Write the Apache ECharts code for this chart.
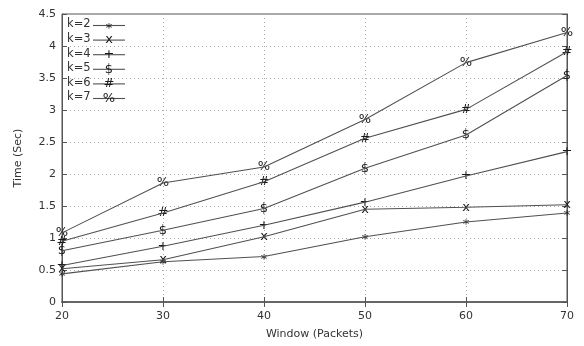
<!DOCTYPE html>
<html><head><meta charset="utf-8">
<script src="https://cdn.jsdelivr.net/npm/echarts@6/dist/echarts.min.js"></script>
<style>html,body{margin:0;padding:0;background:#fff}#c{width:584px;height:346px}</style>
</head><body><div id="c"></div>
<script>
const windows = [20, 30, 40, 50, 60, 70];
const seriesNames = ['k=2', 'k=3', 'k=4', 'k=5', 'k=6', 'k=7'];
const glyphs = ['*', 'x', '+', '$', '#', '%'];
const k2 = [0.44, 0.63, 0.71, 1.02, 1.25, 1.39];
const k3 = [0.52, 0.66, 1.02, 1.45, 1.48, 1.52];
const k4 = [0.57, 0.87, 1.20, 1.56, 1.97, 2.35];
const k5 = [0.80, 1.12, 1.46, 2.09, 2.61, 3.54];
const k6 = [0.95, 1.39, 1.88, 2.56, 3.01, 3.91];
const k7 = [1.08, 1.86, 2.11, 2.85, 3.74, 4.21];
const allValues = [k2, k3, k4, k5, k6, k7];
const yTicks = [0, 0.5, 1, 1.5, 2, 2.5, 3, 3.5, 4, 4.5];

const FONT = 'DejaVu Sans';
const lineColor = '#505050';
const glyphColor = '#1a1a1a';
const chart = echarts.init(document.getElementById('c'));

const series = [];
allValues.forEach((vals, i) => {
  const data = vals.map((v, j) => [windows[j], v]);
  series.push({
    name: seriesNames[i], type: 'line', data: data,
    symbol: 'none', lineStyle: { color: lineColor, width: 1.1 },
    itemStyle: { color: lineColor }, emphasis: { disabled: true }, silent: true
  });
  series.push({
    name: seriesNames[i] + ' marks', type: 'custom', data: data, silent: true, z: 3,
    renderItem: (params, api) => {
      const p = api.coord([api.value(0), api.value(1)]);
      return { type: 'text', x: p[0], y: p[1] + (glyphs[i] === '*' ? 3 : 0),
        style: { text: glyphs[i], fontFamily: FONT, fontSize: 13, fill: glyphColor,
          align: 'center', verticalAlign: 'middle' } };
    }
  });
});

// Legend (text, then line sample with glyph) built from arrays
const legendEls = [];
seriesNames.forEach((n, i) => {
  const y = 25.5 + i * 14.6;
  legendEls.push({ type: 'text', left: 67, top: y - 7, style: { text: n, fontFamily: FONT, fontSize: 11.5, fill: '#333' } });
  legendEls.push({ type: 'line', shape: { x1: 93, y1: y, x2: 125, y2: y }, style: { stroke: lineColor, lineWidth: 1.1 } });
  legendEls.push({ type: 'text', x: 109, y: y + (glyphs[i] === '*' ? 3 : 0), style: { text: glyphs[i], fontFamily: FONT, fontSize: 13, fill: glyphColor, align: 'center', verticalAlign: 'middle' } });
});

chart.setOption({
  animation: false,
  grid: { left: 62, right: 17, top: 14, bottom: 44, show: true, borderColor: '#555', borderWidth: 1 },
  xAxis: [{
    type: 'value', min: 20, max: 70, interval: 10,
    name: 'Window (Packets)', nameLocation: 'middle', nameGap: 27,
    nameTextStyle: { fontFamily: FONT, fontSize: 11, color: '#333' },
    axisLine: { show: true, lineStyle: { color: '#555' } },
    axisTick: { inside: true, length: 5, lineStyle: { color: '#555' } },
    axisLabel: { fontFamily: FONT, fontSize: 11, color: '#333', margin: 9 },
    splitLine: { show: true, lineStyle: { type: [1, 3], color: '#aaa' } }
  }, {
    type: 'value', min: 20, max: 70, interval: 10, position: 'top',
    axisLine: { show: true, lineStyle: { color: '#666', width: 2 } },
    axisTick: { inside: true, length: 5, lineStyle: { color: '#555' } },
    axisLabel: { show: false }, splitLine: { show: false }
  }],
  yAxis: [{
    type: 'value', min: 0, max: 4.5, interval: 0.5,
    name: 'Time (Sec)', nameLocation: 'middle', nameGap: 38,
    nameTextStyle: { fontFamily: FONT, fontSize: 11, color: '#333' },
    axisLine: { show: true, lineStyle: { color: '#555' } },
    axisTick: { inside: true, length: 5, lineStyle: { color: '#555' } },
    axisLabel: { fontFamily: FONT, fontSize: 11, color: '#333', margin: 6,
      formatter: v => yTicks.includes(v) ? String(v) : '' },
    splitLine: { show: true, lineStyle: { type: [1, 3], color: '#aaa' } }
  }, {
    type: 'value', min: 0, max: 4.5, interval: 0.5, position: 'right',
    axisLine: { show: true, lineStyle: { color: '#555' } },
    axisTick: { inside: true, length: 5, lineStyle: { color: '#555' } },
    axisLabel: { show: false }, splitLine: { show: false }
  }],
  series: series,
  graphic: legendEls
});
</script></body></html>
